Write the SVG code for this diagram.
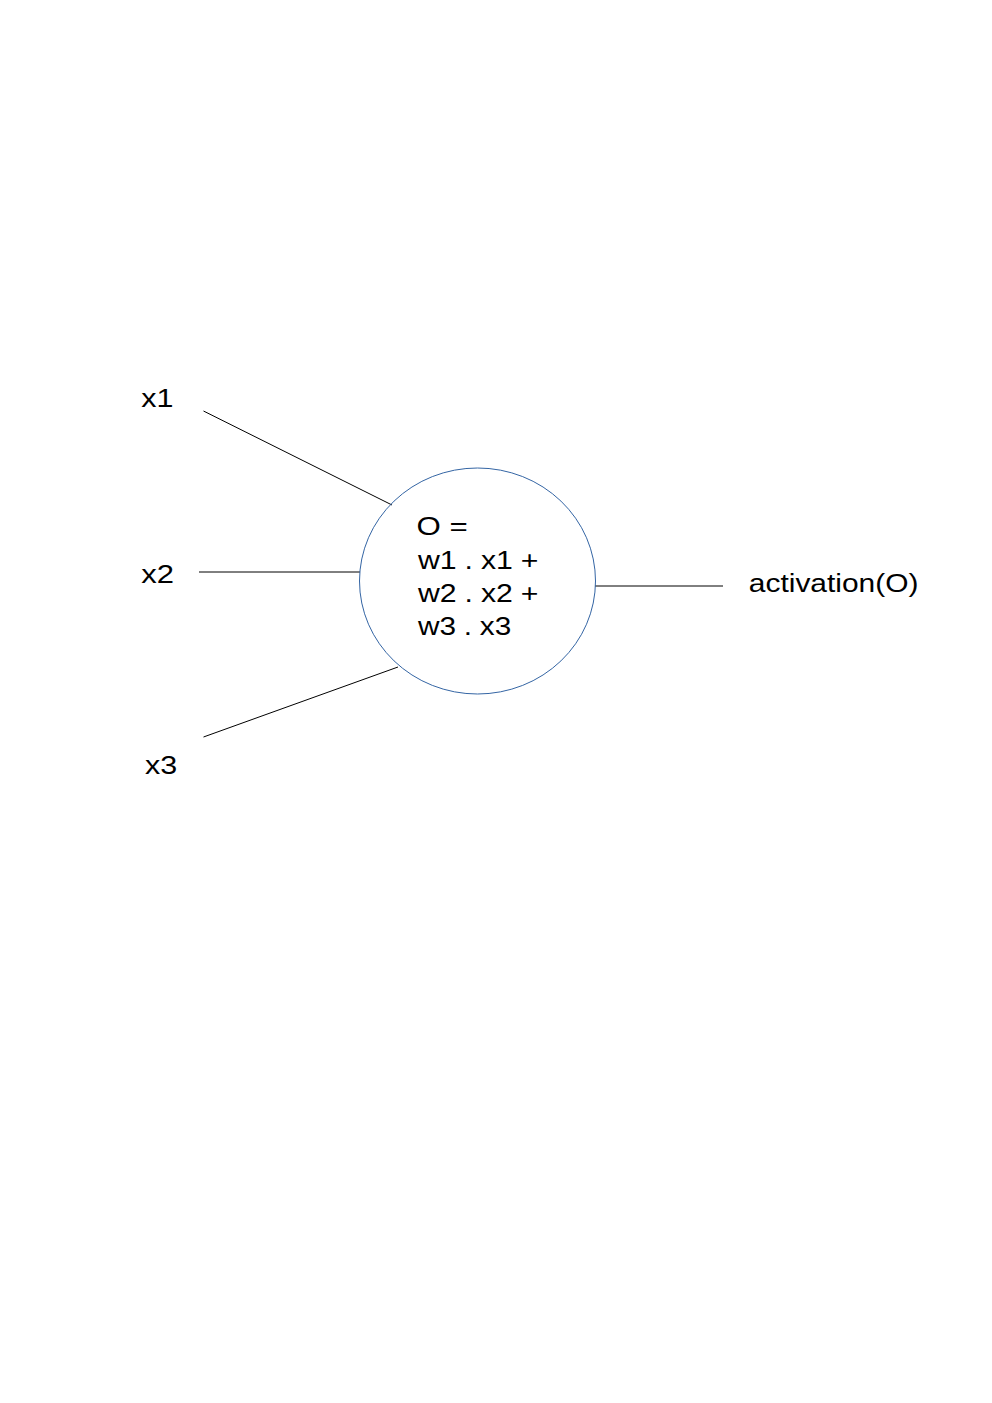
<svg xmlns="http://www.w3.org/2000/svg" width="992" height="1403" viewBox="0 0 992 1403">
<style>
.t{font-family:"Liberation Sans",Arial,sans-serif;fill:#000;font-size:25px;}
.eq{word-spacing:-0.4px;}
.c{stroke:#000;stroke-width:1;fill:none;}
</style>
<rect width="992" height="1403" fill="#fff"/>
<g id="connectors">
<line class="c" x1="203.5" y1="411" x2="392" y2="505"/>
<line class="c" x1="199" y1="572" x2="360" y2="572"/>
<line class="c" x1="203.5" y1="737" x2="398" y2="667"/>
<line class="c" x1="595" y1="586" x2="723" y2="586"/>
</g>
<g id="neuron">
<ellipse cx="477.5" cy="581" rx="118" ry="113" fill="none" stroke="#3465a4" stroke-width="1"/>
<text class="t" transform="translate(416.5,534.5) scale(1.25,1)">O =</text>
<text class="t eq" transform="translate(418,569) scale(1.21,1)">w1 . x1 +</text>
<text class="t eq" transform="translate(418,602) scale(1.21,1)">w2 . x2 +</text>
<text class="t eq" transform="translate(418,635) scale(1.19,1)">w3 . x3</text>
</g>
<g id="x1"><text class="t" transform="translate(141.3,407) scale(1.22,1)">x1</text></g>
<g id="x2"><text class="t" transform="translate(141.3,583) scale(1.24,1)">x2</text></g>
<g id="x3"><text class="t" transform="translate(145,774) scale(1.22,1)">x3</text></g>
<g id="output"><text class="t" style="font-size:26.5px" transform="translate(748.8,592) scale(1.13,1)">activation(O)</text></g>
</svg>
